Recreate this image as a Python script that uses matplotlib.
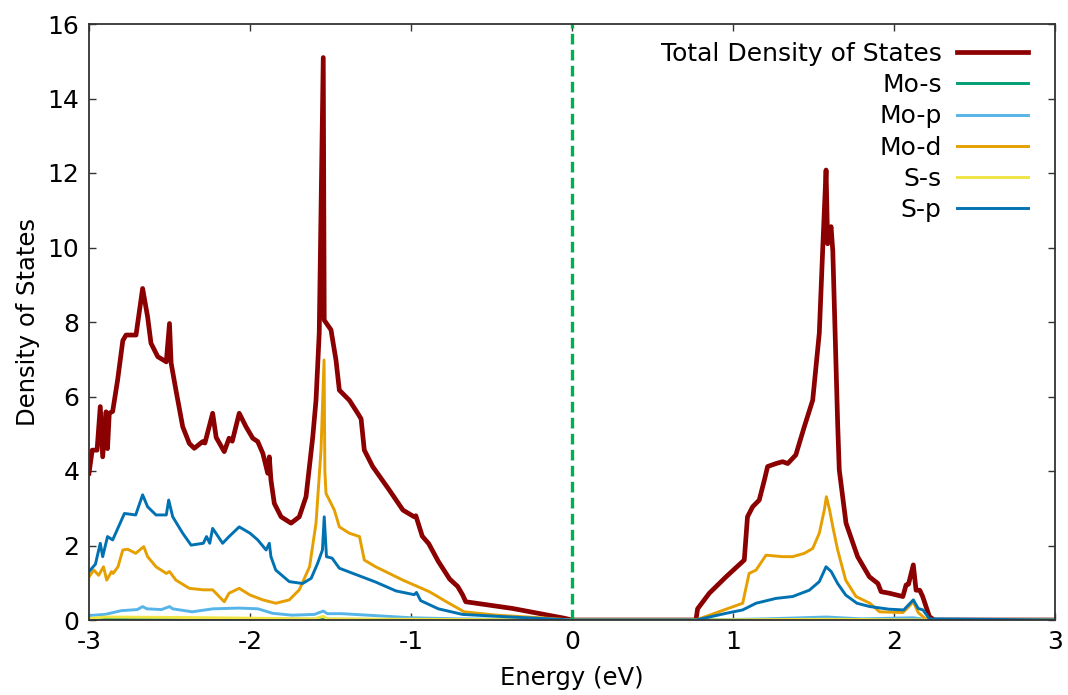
import matplotlib
matplotlib.use("Agg")
import matplotlib.pyplot as plt

plt.rcParams['font.family'] = ['DejaVu Sans']

# ---------------- data ----------------
tot_E = [-3.0, -2.98, -2.95, -2.93, -2.915, -2.894, -2.885, -2.874, -2.853, -2.822,
         -2.79, -2.77, -2.708, -2.667, -2.636, -2.615, -2.573, -2.52, -2.50, -2.49,
         -2.46, -2.418, -2.377, -2.346, -2.294, -2.28, -2.232, -2.21, -2.16, -2.13,
         -2.11, -2.067, -2.025, -1.983, -1.952, -1.92, -1.89, -1.88, -1.87, -1.849,
         -1.807, -1.745, -1.694, -1.652, -1.61, -1.59, -1.57, -1.545, -1.539, -1.497,
         -1.466, -1.445, -1.383, -1.331, -1.31, -1.29, -1.238, -1.135, -1.05, -0.98,
         -0.97, -0.93, -0.89, -0.83, -0.76, -0.71, -0.68, -0.66, -0.37, -0.05, 0.0,
         0.77, 0.78, 0.853, 0.957, 1.07, 1.09, 1.122, 1.163, 1.195, 1.215, 1.267,
         1.308, 1.34, 1.39, 1.443, 1.495, 1.536, 1.557, 1.578, 1.588, 1.609, 1.62,
         1.65, 1.66, 1.702, 1.774, 1.847, 1.9, 1.92, 1.97, 2.055, 2.075, 2.09, 2.12,
         2.137, 2.16, 2.178, 2.22, 2.25, 3.0]
tot_D = [3.94, 4.56, 4.56, 5.73, 4.38, 5.59, 4.6, 5.55, 5.6, 6.45,
         7.5, 7.65, 7.65, 8.9, 8.14, 7.43, 7.07, 6.93, 7.96, 6.9,
         6.17, 5.19, 4.74, 4.61, 4.79, 4.75, 5.55, 4.9, 4.52, 4.88,
         4.8, 5.55, 5.19, 4.88, 4.79, 4.47, 3.94, 4.38, 3.76, 3.13,
         2.77, 2.6, 2.77, 3.31, 4.92, 5.9, 7.7, 15.1, 8.05, 7.79,
         6.98, 6.17, 5.9, 5.55, 5.4, 4.56, 4.12, 3.49, 2.95, 2.77,
         2.8, 2.25, 2.05, 1.57, 1.1, 0.9, 0.68, 0.49, 0.31, 0.05, 0.0,
         0.0, 0.3, 0.72, 1.16, 1.61, 2.77, 3.04, 3.22, 3.76, 4.12, 4.2,
         4.25, 4.2, 4.43, 5.19, 5.9, 7.7, 9.93, 12.08, 10.1, 10.56, 9.9,
         5.28, 4.03, 2.6, 1.7, 1.16, 0.98, 0.76, 0.72, 0.63, 0.94, 0.96, 1.48,
         0.8, 0.8, 0.63, 0.09, 0.0, 0.0]

mos_E = [-3.0, -2.5, -2.0, -1.5, -1.0, 0.0, 0.77, 1.5, 2.22, 3.0]
mos_D = [0.02, 0.02, 0.02, 0.02, 0.01, 0.0, 0.0, 0.01, 0.0, 0.0]

mop_E = [-3.0, -2.9, -2.8, -2.7, -2.667, -2.64, -2.55, -2.5, -2.48, -2.36, -2.23,
         -2.07, -1.95, -1.86, -1.74, -1.6, -1.545, -1.52, -1.43, -1.23, -1.0, -0.7,
         0.0, 0.77, 1.2, 1.58, 1.8, 2.12, 2.22, 3.0]
mop_D = [0.12, 0.15, 0.25, 0.28, 0.36, 0.3, 0.28, 0.36, 0.3, 0.22, 0.3,
         0.32, 0.3, 0.18, 0.13, 0.15, 0.24, 0.17, 0.17, 0.12, 0.06, 0.03,
         0.0, 0.0, 0.03, 0.08, 0.03, 0.06, 0.0, 0.0]

mod_E = [-3.0, -2.97, -2.94, -2.91, -2.89, -2.86, -2.85, -2.82, -2.79, -2.76, -2.71,
         -2.66, -2.636, -2.584, -2.52, -2.5, -2.46, -2.377, -2.29, -2.232, -2.16,
         -2.13, -2.067, -2.0, -1.92, -1.84, -1.756, -1.694, -1.63, -1.59, -1.559,
         -1.54, -1.535, -1.528, -1.476, -1.445, -1.383, -1.32, -1.29, -1.22, -1.05,
         -0.886, -0.78, -0.67, -0.47, -0.2, 0.0,
         0.77, 1.06, 1.10, 1.143, 1.205, 1.308, 1.37, 1.443, 1.495, 1.536, 1.567,
         1.58, 1.6, 1.62, 1.65, 1.70, 1.764, 1.85, 1.91, 2.055, 2.09, 2.12, 2.15,
         2.19, 2.22, 3.0]
mod_D = [1.16, 1.34, 1.2, 1.43, 1.07, 1.3, 1.25, 1.43, 1.88, 1.9, 1.79,
         1.97, 1.7, 1.43, 1.25, 1.3, 1.07, 0.85, 0.81, 0.81, 0.49,
         0.72, 0.85, 0.67, 0.54, 0.45, 0.54, 0.81, 1.43, 2.6, 4.56,
         6.98, 4.0, 3.4, 2.95, 2.5, 2.33, 2.24, 1.61, 1.43, 1.07,
         0.76, 0.49, 0.22, 0.13, 0.06, 0.0,
         0.0, 0.45, 1.25, 1.34, 1.74, 1.7, 1.7, 1.79, 1.92, 2.33, 2.95,
         3.31, 2.95, 2.5, 1.88, 1.07, 0.63, 0.45, 0.22, 0.2, 0.35, 0.49, 0.2,
         0.05, 0.0, 0.0]

ss_E = [-3.0, -2.9, -2.5, -2.0, -1.6, -1.545, -1.52, -1.0, 0.0, 0.77, 1.58, 2.22, 3.0]
ss_D = [0.04, 0.08, 0.07, 0.05, 0.03, 0.1, 0.03, 0.02, 0.0, 0.0, 0.02, 0.0, 0.0]

sp_E = [-3.0, -2.96, -2.93, -2.915, -2.885, -2.853, -2.82, -2.78, -2.71, -2.667,
        -2.636, -2.584, -2.52, -2.505, -2.48, -2.418, -2.366, -2.29, -2.27, -2.25,
        -2.232, -2.17, -2.13, -2.067, -2.0, -1.952, -1.9, -1.88, -1.87, -1.84,
        -1.756, -1.673, -1.62, -1.58, -1.55, -1.539, -1.525, -1.49, -1.445, -1.36,
        -1.22, -1.093, -0.98, -0.966, -0.94, -0.83, -0.68, -0.47, 0.0,
        0.77, 0.957, 1.06, 1.143, 1.267, 1.37, 1.474, 1.536, 1.578, 1.61, 1.65,
        1.70, 1.77, 1.85, 1.97, 2.06, 2.12, 2.15, 2.18, 2.22, 3.0]
sp_D = [1.3, 1.5, 2.06, 1.7, 2.24, 2.15, 2.47, 2.86, 2.82, 3.36,
        3.04, 2.82, 2.82, 3.22, 2.77, 2.33, 2.01, 2.06, 2.24, 2.06,
        2.46, 2.06, 2.24, 2.5, 2.33, 2.15, 1.88, 2.06, 1.7, 1.34,
        1.03, 0.98, 1.12, 1.52, 1.88, 2.77, 1.7, 1.66, 1.39, 1.25,
        1.02, 0.78, 0.68, 0.74, 0.52, 0.3, 0.15, 0.1, 0.0,
        0.0, 0.18, 0.27, 0.45, 0.58, 0.63, 0.8, 1.03, 1.43, 1.3, 0.98,
        0.67, 0.45, 0.36, 0.29, 0.27, 0.54, 0.31, 0.27, 0.03, 0.0]

labels = ["Total Density of States", "Mo-s", "Mo-p", "Mo-d", "S-s", "S-p"]
colors = ["#8b0000", "#009e73", "#56b4e9", "#e69f00", "#f0e442", "#0072b2"]
x_ticks = [-3, -2, -1, 0, 1, 2, 3]
y_ticks = [0, 2, 4, 6, 8, 10, 12, 14, 16]
fermi = 0.0

# ---------------- plot ----------------
fig = plt.figure(figsize=(10.68, 6.95), dpi=100)
ax = fig.add_axes([89 / 1068, 75 / 695, 966 / 1068, 596 / 695])

series = [(tot_E, tot_D), (mos_E, mos_D), (mop_E, mop_D),
          (mod_E, mod_D), (ss_E, ss_D), (sp_E, sp_D)]
for i, ((e, d), lab, col) in enumerate(zip(series, labels, colors)):
    lw = 3.4 if i == 0 else 2.1
    ax.plot(e, d, color=col, lw=lw, label=lab)

ax.plot([fermi, fermi], [0, 16], color="#00b04f", lw=2.4, ls=(0, (3.2, 1.6)))

ax.set_xlim(-3, 3)
ax.set_ylim(0, 16)
ax.set_xticks(x_ticks)
ax.set_yticks(y_ticks)
ax.set_xticklabels([str(t) for t in x_ticks])
ax.set_yticklabels([str(t) for t in y_ticks])
ax.tick_params(direction='in', length=5, width=1, top=True, right=True,
               labelsize=18, pad=7, colors='#333333', labelcolor='black')
for s in ax.spines.values():
    s.set_linewidth(1.3)
    s.set_color('#333333')

ax.set_xlabel("Energy (eV)", fontsize=17.5, labelpad=9)
ax.set_ylabel("Density of States", fontsize=17.5, labelpad=5)

leg = ax.legend(loc='upper right', bbox_to_anchor=(0.972, 0.970), frameon=False,
                markerfirst=False, fontsize=18, handlelength=2.85,
                handletextpad=0.6, labelspacing=0.29, borderpad=0,
                borderaxespad=0)

fig.savefig("out.png", dpi=100)
